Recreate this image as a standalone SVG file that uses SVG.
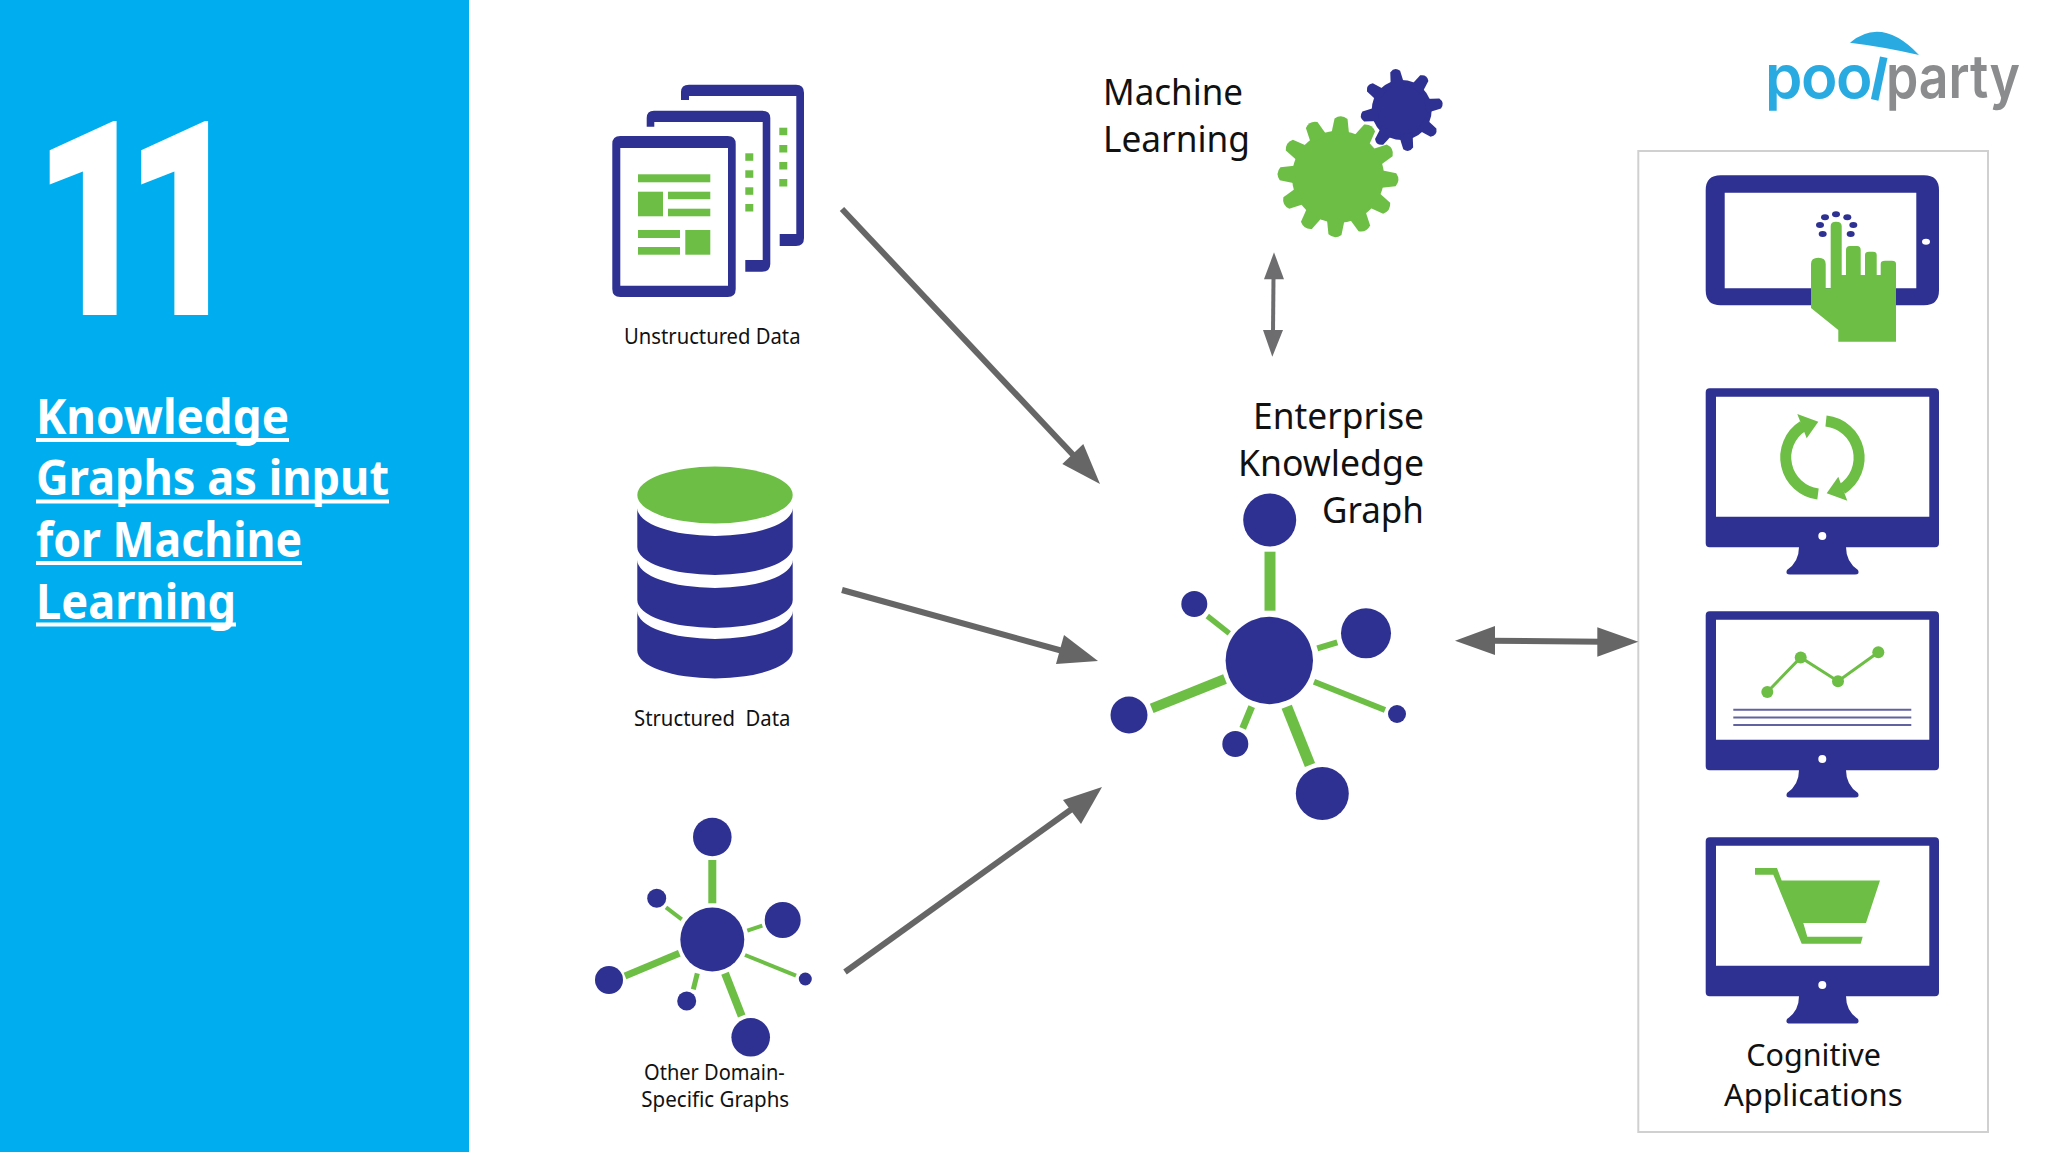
<svg xmlns="http://www.w3.org/2000/svg" width="2048" height="1152" viewBox="0 0 2048 1152">
<style>
.nv{fill:#2e3192}.gr{fill:#6dbe45}.ge{stroke:#6dbe45;fill:none}
.t{font-family:"Noto Sans","Liberation Sans",sans-serif;fill:#111;white-space:pre}
.ti{font-family:"Noto Sans","Liberation Sans",sans-serif;font-weight:700;font-size:48px;fill:#fff}
.lg{font-family:Inter,sans-serif;font-weight:600;font-size:60px}
.ar{stroke:#666;stroke-width:6;fill:none}.ah{fill:#666}
</style>
<defs>
<g id="monitor">
<path class="nv" fill-rule="evenodd" d="M1709.700,388.300H1935a4,4 0 0 1 4,4V543.300a4,4 0 0 1-4,4H1709.700a4,4 0 0 1-4-4V392.300a4,4 0 0 1 4-4ZM1716,396.700V516.700H1929.300V396.700Z"/>
<path class="nv" d="M1799,547Q1799,562 1787,570Q1785,574.500 1790,574.500H1855Q1860,574.500 1858,570Q1846,562 1846,547Z"/>
<circle cx="1822.300" cy="536" r="4" fill="#fff"/>
</g>
<path id="toothG" d="M-9,-42L-6.500,-58Q0,-63 6.500,-58L9,-42Z" class="gr"/>
<path id="toothB" d="M-7,-24L-5,-39Q0,-44 5,-39L7,-24Z" class="nv"/>
</defs>
<rect width="2048" height="1152" fill="#fff"/>
<g id="sidebar">
<rect width="469" height="1152" fill="#00aeef"/>
<text transform="scale(0.75,1)" x="44 166" y="315" font-family="Roboto,sans-serif" font-weight="900" font-size="273" fill="#fff">11</text>
<text class="ti" x="36" y="434" textLength="253" lengthAdjust="spacingAndGlyphs">Knowledge</text><rect x="36" y="438" width="253" height="4" fill="#fff"/>
<text class="ti" x="36" y="495" textLength="353" lengthAdjust="spacingAndGlyphs">Graphs as input</text><rect x="36" y="499.500" width="353" height="4" fill="#fff"/>
<text class="ti" x="36" y="557" textLength="266" lengthAdjust="spacingAndGlyphs">for Machine</text><rect x="36" y="561" width="266" height="4" fill="#fff"/>
<text class="ti" x="36" y="619" textLength="200" lengthAdjust="spacingAndGlyphs">Learning</text><rect x="36" y="622.500" width="200" height="4" fill="#fff"/>
</g>
<g id="unstructured-data">
<path class="nv" d="M681,100V92Q681,84.700 689,84.700H796Q804,84.700 804,92.700V238Q804,246 796,246H779.700V234H796.300V96H689V100Z"/>
<path class="nv" d="M646.700,126.700V118Q646.700,110.700 654,110.700H762Q770.300,110.700 770.300,118V264Q770.300,271.700 762,271.700H745.300V260H762.700V122H654.300V126.700Z"/>
<path class="nv" fill-rule="evenodd" d="M620.300,136H727.700Q735.700,136 735.700,144V289Q735.700,297 727.700,297H620.300Q612.300,297 612.300,289V144Q612.300,136 620.300,136ZM620.300,148V285.700H728V148Z"/>
<g class="gr">
<rect x="745.300" y="153.300" width="8" height="7.500"/><rect x="745.300" y="170.300" width="8" height="7.500"/><rect x="745.300" y="187.300" width="8" height="7.500"/><rect x="745.300" y="204" width="8" height="7.500"/>
<rect x="779.300" y="127.700" width="8" height="7.500"/><rect x="779.300" y="145" width="8" height="7.500"/><rect x="779.300" y="162" width="8" height="7.500"/><rect x="779.300" y="179" width="8" height="7.500"/>
<rect x="638" y="174.300" width="72.300" height="8"/><rect x="638" y="191.700" width="25" height="24.600"/><rect x="668" y="191.700" width="42.300" height="7.500"/><rect x="668" y="208.700" width="42.300" height="7.600"/>
<rect x="638" y="230" width="42" height="8"/><rect x="638" y="247" width="42" height="7.700"/><rect x="685.300" y="230" width="25" height="24.700"/>
</g>
<text class="t" x="624" y="343.500" font-size="22" textLength="176.500" lengthAdjust="spacingAndGlyphs">Unstructured Data</text>
</g>
<g id="structured-data">
<ellipse class="gr" cx="715" cy="495" rx="77.700" ry="28.500"/>
<path class="nv" d="M637.300,508A77.700,28 0 0 0 792.700,508V547A77.700,28 0 0 1 637.300,547Z"/>
<path class="nv" d="M637.300,560A77.700,28 0 0 0 792.700,560V600A77.700,28 0 0 1 637.300,600Z"/>
<path class="nv" d="M637.300,611A77.700,28 0 0 0 792.700,611V650.500A77.700,28 0 0 1 637.300,650.500Z"/>
<text class="t" x="634" y="725.500" font-size="22" textLength="156.500" lengthAdjust="spacingAndGlyphs">Structured  Data</text>
</g>
<g id="other-graphs">
<g class="ge">
<path stroke-width="8" d="M712.300,860V903.300"/><path stroke-width="4" d="M666,907.300L681.700,919.300"/><path stroke-width="4" d="M747.300,930.700L762.300,925.700"/><path stroke-width="7" d="M625,976L679.300,953.300"/><path stroke-width="5" d="M697.300,973.300L693.300,989.300"/><path stroke-width="8" d="M725,973.300L741.700,1016"/><path stroke-width="4" d="M745,955L796,975.700"/>
</g>
<g class="nv">
<circle cx="712.300" cy="939.500" r="32"/><circle cx="712.300" cy="837" r="19.300"/><circle cx="656.700" cy="898.300" r="9.500"/><circle cx="782.700" cy="920" r="18"/><circle cx="609" cy="980" r="14"/><circle cx="686.700" cy="1001" r="9.500"/><circle cx="750.700" cy="1037.300" r="19.300"/><circle cx="805.300" cy="979" r="6.500"/>
</g>
<text class="t" x="644" y="1080" font-size="22" textLength="140.800" lengthAdjust="spacingAndGlyphs">Other Domain-</text>
<text class="t" x="641.300" y="1107" font-size="22" textLength="147.900" lengthAdjust="spacingAndGlyphs">Specific Graphs</text>
</g>
<g id="machine-learning">
<text class="t" x="1103" y="105" font-size="36" textLength="140" lengthAdjust="spacingAndGlyphs">Machine</text>
<text class="t" x="1103" y="151.700" font-size="36" textLength="147" lengthAdjust="spacingAndGlyphs">Learning</text>
<g transform="translate(1401.700,110)">
<circle class="nv" r="30"/>
<use href="#toothB" transform="rotate(-9.600)"/><use href="#toothB" transform="rotate(35.400)"/><use href="#toothB" transform="rotate(80.400)"/><use href="#toothB" transform="rotate(125.400)"/><use href="#toothB" transform="rotate(170.400)"/><use href="#toothB" transform="rotate(215.400)"/><use href="#toothB" transform="rotate(260.400)"/><use href="#toothB" transform="rotate(305.400)"/>
</g>
<g transform="translate(1338,176.700)">
<circle class="gr" r="46"/>
<use href="#toothG" transform="rotate(3)"/><use href="#toothG" transform="rotate(33)"/><use href="#toothG" transform="rotate(63)"/><use href="#toothG" transform="rotate(93)"/><use href="#toothG" transform="rotate(123)"/><use href="#toothG" transform="rotate(153)"/><use href="#toothG" transform="rotate(183)"/><use href="#toothG" transform="rotate(213)"/><use href="#toothG" transform="rotate(243)"/><use href="#toothG" transform="rotate(273)"/><use href="#toothG" transform="rotate(303)"/><use href="#toothG" transform="rotate(333)"/>
</g>
</g>
<g id="enterprise-knowledge-graph">
<text class="t" x="1424" y="429" text-anchor="end" font-size="36" textLength="171" lengthAdjust="spacingAndGlyphs">Enterprise</text>
<text class="t" x="1424" y="475.700" text-anchor="end" font-size="36" textLength="186" lengthAdjust="spacingAndGlyphs">Knowledge</text>
<text class="t" x="1424" y="522.700" text-anchor="end" font-size="36" textLength="102" lengthAdjust="spacingAndGlyphs">Graph</text>
<g class="ge">
<path stroke-width="11" d="M1270,551.700V610.700"/><path stroke-width="5.500" d="M1207.300,616L1229.300,633.300"/><path stroke-width="6" d="M1317.300,648.300L1337.300,642.300"/><path stroke-width="10" d="M1151.700,708.300L1225,679"/><path stroke-width="7" d="M1251.700,706.700L1242.700,728.300"/><path stroke-width="11" d="M1286.700,706.700L1310,765"/><path stroke-width="6" d="M1314,681.700L1385,710"/>
</g>
<g class="nv">
<circle cx="1269.300" cy="660.500" r="43.700"/><circle cx="1269.700" cy="520" r="26.500"/><circle cx="1194.300" cy="604" r="13"/><circle cx="1366" cy="633.300" r="25"/><circle cx="1129" cy="715" r="18.500"/><circle cx="1235.300" cy="744" r="13"/><circle cx="1322.300" cy="793.500" r="26.500"/><circle cx="1397" cy="714" r="9"/>
</g>
</g>
<g id="logo">
<path fill="#29abe2" d="M1850,42.700Q1882,16 1919,55Q1885,47 1850,42.700Z"/>
<text class="lg" x="1765 1801 1836 1867" y="98.300" rotate="0 0 0 12" fill="#29abe2">pool</text>
<text class="lg" x="1886" y="98.300" fill="#8a8c8e" textLength="134" lengthAdjust="spacingAndGlyphs">party</text>
</g>
<g id="cognitive-applications">
<rect x="1638.300" y="151" width="349.700" height="981" fill="#fff" stroke="#d0d0d0" stroke-width="2"/>
<g id="app-tablet">
<path class="nv" fill-rule="evenodd" d="M1720.700,175.300H1924Q1939,175.300 1939,190.300V290.300Q1939,305.300 1924,305.300H1720.700Q1705.700,305.300 1705.700,290.300V190.300Q1705.700,175.300 1720.700,175.300ZM1724.700,192.700V288.300H1916.300V192.700Z"/>
<ellipse cx="1926" cy="241.700" rx="4" ry="3" fill="#fff"/>
<path class="gr" d="M1811,308V264Q1811,257.700 1818.300,257.700Q1825.700,257.700 1825.700,264V288.300H1830.700V226Q1830.700,221.700 1836,221.700Q1841.700,221.700 1841.700,226V275H1846V250Q1846,246 1850,246H1857Q1860.700,246 1860.700,250V275H1865V255Q1865,251.700 1869,251.700H1873Q1876.700,251.700 1876.700,255V275H1880.700V264Q1880.700,260.700 1885,260.700H1892Q1896,260.700 1896,264V341.700H1838.300V330Z"/>
<g class="nv"><ellipse cx="1822.700" cy="234" rx="4" ry="3"/><ellipse cx="1820" cy="225" rx="4" ry="3"/><ellipse cx="1825" cy="217.300" rx="4" ry="3"/><ellipse cx="1836" cy="214.300" rx="4" ry="3"/><ellipse cx="1847.300" cy="217.300" rx="4" ry="3"/><ellipse cx="1853.300" cy="225" rx="4" ry="3"/><ellipse cx="1850.700" cy="234" rx="4" ry="3"/></g>
</g>
<g id="app-refresh">
<use href="#monitor"/>
<path class="ge" stroke-width="11" d="M1818,494A37,37 0 0 1 1803,426"/>
<path class="ge" stroke-width="11" d="M1826,421A37,37 0 0 1 1842,489"/>
<path class="gr" d="M1797.300,414L1818.300,421.700L1806.700,438.300Z"/>
<path class="gr" d="M1847.300,500.700L1826.700,493.300L1838.300,476.700Z"/>
</g>
<g id="app-chart">
<use href="#monitor" y="223"/>
<path class="ge" stroke-width="3" d="M1767.300,692L1800.700,657.500L1838,681.300L1878.300,652.300"/>
<g class="gr"><circle cx="1767.300" cy="692" r="6"/><circle cx="1800.700" cy="657.500" r="6"/><circle cx="1838" cy="681.300" r="6"/><circle cx="1878.300" cy="652.300" r="6"/></g>
<path stroke="#62629f" stroke-width="2" d="M1733.300,709.800H1911.300M1733.300,717.400H1911.300M1733.300,725H1911.300"/>
</g>
<g id="app-cart">
<use href="#monitor" y="449"/>
<polygon class="gr" points="1755,868 1777,868 1781.700,880.600 1880,880.600 1866,923 1803.300,923 1807.300,936.800 1862.700,936.800 1860.700,943.700 1801.700,943.700 1773.300,874.800 1755,874.800"/>
</g>
<text class="t" x="1746.300" y="1066" font-size="31" textLength="134.700" lengthAdjust="spacingAndGlyphs">Cognitive</text>
<text class="t" x="1724" y="1106" font-size="31" textLength="178.700" lengthAdjust="spacingAndGlyphs">Applications</text>
</g>
<g id="connectors">
<path class="ar" d="M842,209L1076,458"/><path class="ah" d="M1100,484L1062.300,464L1083.300,444Z"/>
<path class="ar" d="M842,590L1070,653"/><path class="ah" d="M1098,661L1056,664L1064,635Z"/>
<path class="ar" d="M845,972L1076,806"/><path class="ah" d="M1102,787L1081,824L1063,800Z"/>
<path stroke="#6d6d6f" stroke-width="4" fill="none" d="M1273.500,278L1273,332"/><path fill="#6d6d6f" d="M1274,252.300L1284,279.300H1264Z"/><path fill="#6d6d6f" d="M1272.300,356.700L1263,330H1283Z"/>
<path class="ar" d="M1490,640.700L1602,641.700"/><path class="ah" d="M1455,640.700L1495,626V655Z"/><path class="ah" d="M1638.300,641.700L1597.300,627.300V656.700Z"/>
</g>
</svg>
